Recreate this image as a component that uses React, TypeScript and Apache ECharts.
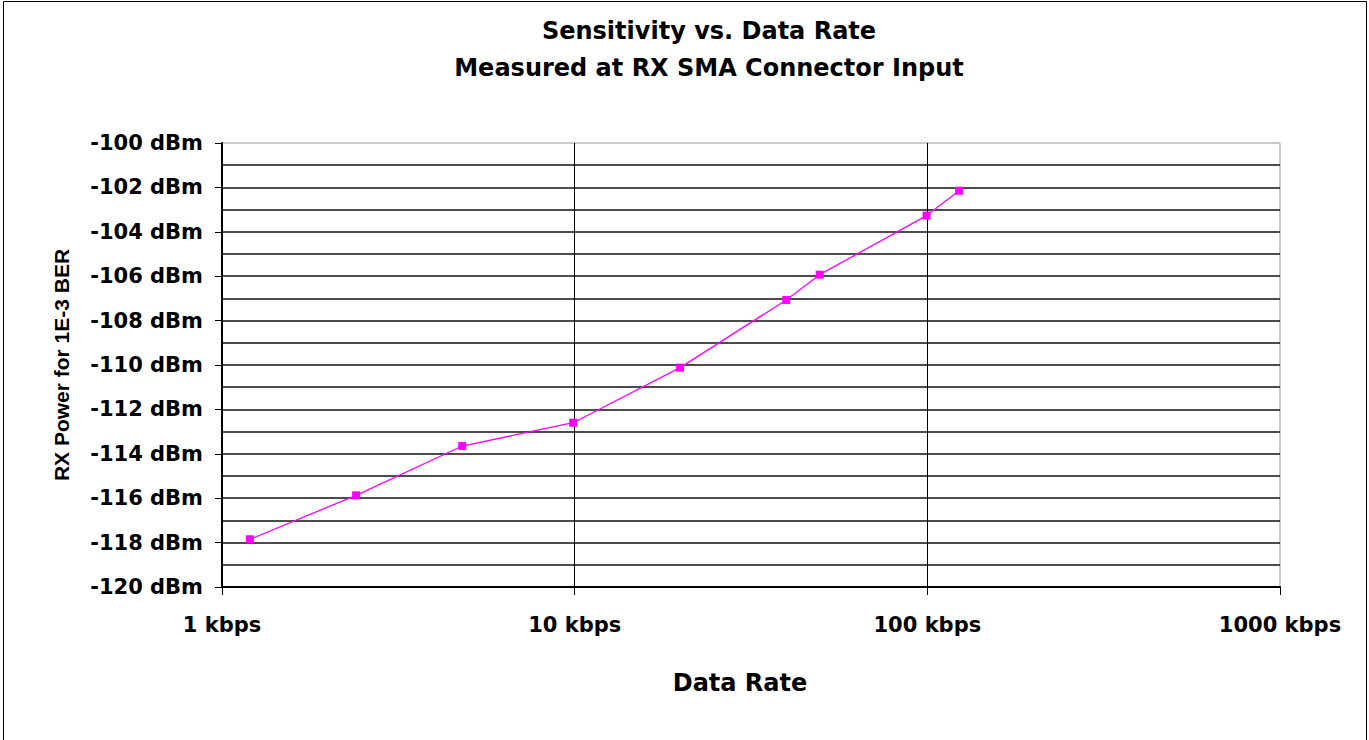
import React, { useEffect, useRef } from "react";
import * as echarts from "echarts";

const titleLines = ["Sensitivity vs. Data Rate", "Measured at RX SMA Connector Input"];
const xAxisName = "Data Rate";
const yAxisName = "RX Power for 1E-3 BER";
const dataRateKbps = [1.2, 2.4, 4.8, 9.9, 19.9, 39.8, 49.5, 99.5, 123];
const rxPowerDbm = [-117.85, -115.87, -113.65, -112.6, -110.12, -107.07, -105.93, -103.27, -102.15];

const FONT = "DejaVu Sans";

export default function App() {
  const ref = useRef<HTMLDivElement>(null);
  useEffect(() => {
    if (!ref.current) return;
    const chart = echarts.init(ref.current, undefined, { renderer: "svg" });
    const data = dataRateKbps.map((x, i) => [x, rxPowerDbm[i]]);
    chart.setOption({
      animation: false,
      backgroundColor: "#fff",
      title: {
        text: titleLines.join("\n"),
        left: 704,
        top: 7,
        textAlign: "center",
        textStyle: { fontFamily: FONT, fontWeight: "bold", fontSize: 24, lineHeight: 37, color: "#000" },
      },
      graphic: [
        {
          type: "rect",
          shape: { x: 3.5, y: 1.5, width: 1363, height: 745 },
          style: { fill: "none", stroke: "#000", lineWidth: 1 },
          silent: true,
        },
      ],
      grid: {
        left: 222,
        right: 89,
        top: 143,
        bottom: 153,
        show: true,
        borderColor: "#999",
        borderWidth: 1,
        backgroundColor: "transparent",
      },
      xAxis: {
        type: "log",
        logBase: 10,
        min: 1,
        max: 1000,
        name: xAxisName,
        nameLocation: "middle",
        nameGap: 84,
        nameTextStyle: {
          fontFamily: FONT,
          fontWeight: "bold",
          fontSize: 24,
          color: "#000",
          padding: [0, 22, 0, 0],
        },
        axisLine: { show: true, lineStyle: { color: "#000", width: 2 } },
        axisTick: { show: true, inside: false, length: 8, lineStyle: { color: "#000", width: 1 } },
        axisLabel: {
          margin: 27,
          fontFamily: FONT,
          fontWeight: "bold",
          fontSize: 21,
          color: "#000",
          formatter: (v: number) => `${v} kbps`,
        },
        splitLine: { show: true, showMinLine: false, showMaxLine: false, lineStyle: { color: "#000", width: 1 } },
        minorTick: { show: false },
      },
      yAxis: {
        type: "value",
        min: -120,
        max: -100,
        interval: 2,
        name: yAxisName,
        nameLocation: "middle",
        nameRotate: 90,
        nameGap: 150,
        nameTextStyle: { fontFamily: "Liberation Sans", fontWeight: "bold", fontSize: 21, color: "#000" },
        axisLine: { show: true, lineStyle: { color: "#000", width: 2 } },
        axisTick: { show: true, inside: false, length: 7, lineStyle: { color: "#000", width: 1 } },
        axisLabel: {
          margin: 19,
          fontFamily: FONT,
          fontWeight: "bold",
          fontSize: 21,
          color: "#000",
          formatter: (v: number) => `${v} dBm`,
        },
        splitLine: { show: true, showMinLine: false, showMaxLine: false, lineStyle: { color: "#111", width: 1.6 } },
        minorTick: { show: false, splitNumber: 2 },
        minorSplitLine: { show: true, lineStyle: { color: "#111", width: 1.6 } },
      },
      series: [
        {
          type: "line",
          data,
          symbol: "rect",
          symbolSize: 8,
          itemStyle: { color: "#FF00FF" },
          lineStyle: { color: "#FF00FF", width: 1.3 },
        },
      ],
    });
    return () => chart.dispose();
  }, []);
  return <div ref={ref} style={{ position: "fixed", left: 0, top: 0, width: 1369, height: 740 }} />;
}
